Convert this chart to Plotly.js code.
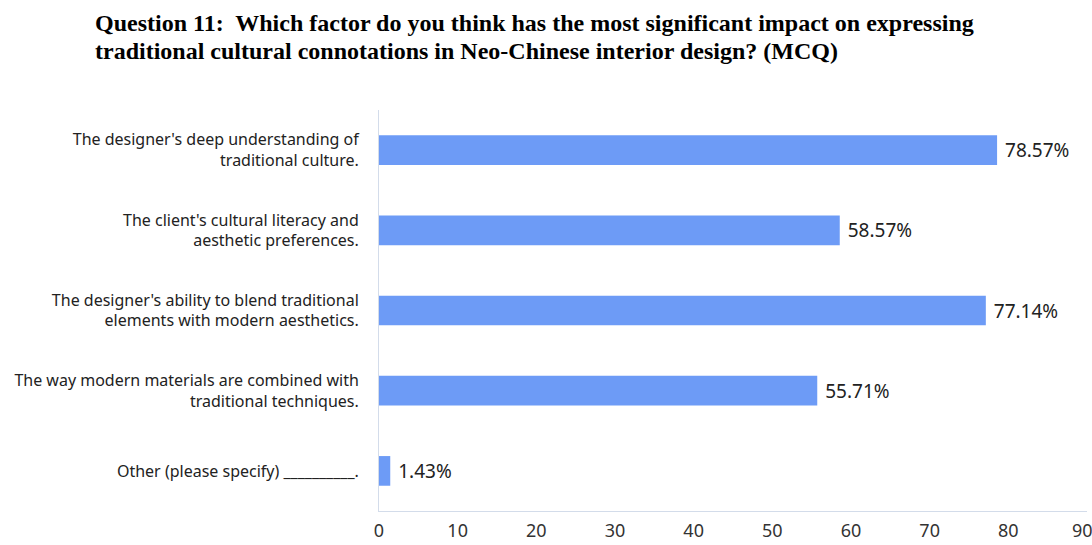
<!DOCTYPE html>
<html>
<head>
<meta charset="utf-8">
<script src="https://cdn.plot.ly/plotly-3.0.1.min.js"></script>
<style>html,body{margin:0;padding:0;background:#fff;}#chart{width:1092px;height:545px;}</style>
</head>
<body>
<div id="chart"></div>
<script>
const titleLines = [
  "Question 11:\u00a0 Which factor do you think has the most significant impact on expressing",
  "traditional cultural connotations in Neo-Chinese interior design? (MCQ)"
];
const categories = [
  "The designer's deep understanding of<br>traditional culture.",
  "The client's cultural literacy and<br>aesthetic preferences.",
  "The designer's ability to blend traditional<br>elements with modern aesthetics.",
  "The way modern materials are combined with<br>traditional techniques.",
  "Other (please specify) __________."
];
const values = [78.57, 58.57, 77.14, 55.71, 1.43];
const labels = ["78.57%", "58.57%", "77.14%", "55.71%", "1.43%"];
const xTicks = [0, 10, 20, 30, 40, 50, 60, 70, 80, 90];
const xTickText = ["0", "10", "20", "30", "40", "50", "60", "70", "80", "90\u00a0\u00a0"];

const trace = {
  type: 'bar',
  orientation: 'h',
  y: categories,
  x: values,
  text: labels.map(t => '\u00a0' + t),
  textposition: 'outside',
  textfont: {family: 'Noto Sans', size: 19, color: '#222'},
  marker: {color: '#6d9bf6'},
  width: 0.37,
  cliponaxis: false,
  hoverinfo: 'skip'
};

const plotTop = 110, plotBottom = 511, plotH = plotBottom - plotTop;
const plotLeft = 379, plotW = 1092 - 5 - plotLeft;
const titleFont = {family: 'Liberation Serif', size: 24, color: '#000'};
const titleBottoms = [37, 65];

const layout = {
  width: 1092, height: 545,
  margin: {l: plotLeft, r: 5, t: plotTop, b: 545 - plotBottom},
  paper_bgcolor: '#fff', plot_bgcolor: '#fff',
  showlegend: false,
  annotations: titleLines.map((t, i) => ({
    text: '<b>' + t + '</b>',
    font: titleFont,
    showarrow: false,
    xref: 'paper', x: (94 - plotLeft) / plotW, xanchor: 'left',
    yref: 'paper', y: (plotBottom - titleBottoms[i]) / plotH, yanchor: 'bottom',
    borderpad: 0
  })),
  xaxis: {
    range: [0, 90],
    tickvals: xTicks,
    ticktext: xTickText,
    showgrid: false, zeroline: false,
    showline: true, linecolor: '#d3dcea', linewidth: 1,
    ticks: '', tickfont: {family: 'Noto Sans', size: 18, color: '#333'},
    ticklabelstandoff: 3,
    ticklabeloverflow: 'allow',
    fixedrange: true
  },
  yaxis: {
    type: 'category',
    categoryorder: 'array', categoryarray: categories,
    autorange: 'reversed',
    showgrid: false, zeroline: false,
    showline: true, linecolor: '#d3dcea', linewidth: 1,
    ticks: '', tickfont: {family: 'Noto Sans', size: 16, color: '#222'},
    ticklabelstandoff: 16,
    fixedrange: true
  }
};

Plotly.newPlot('chart', [trace], layout, {displayModeBar: false, staticPlot: true});
</script>
</body>
</html>
